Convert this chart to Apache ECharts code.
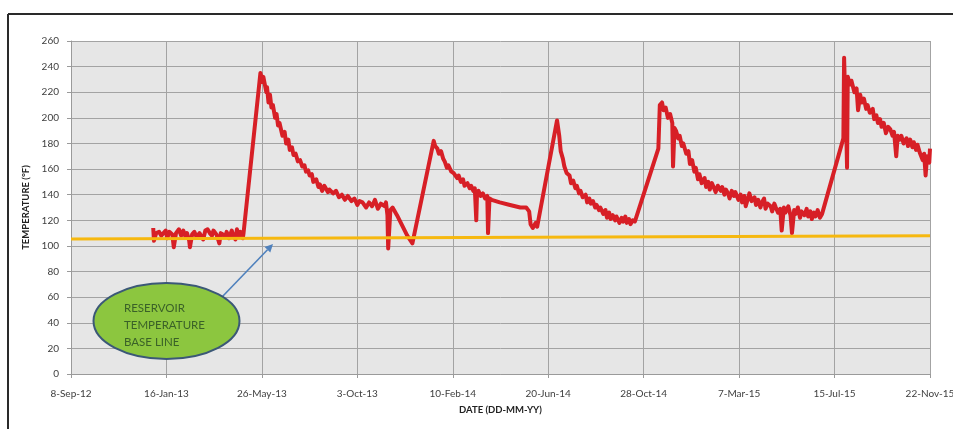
<!DOCTYPE html>
<html>
<head>
<meta charset="utf-8">
<script src="https://cdn.jsdelivr.net/npm/echarts@6/dist/echarts.min.js"></script>
<style>html,body{margin:0;padding:0;background:#fff;}#chart{width:953px;height:429px;}</style>
</head>
<body>
<div id="chart"></div>
<script>
// Day offsets from 8-Sep-12 (x) and temperature in °F (y)
const dateTicks = ['8-Sep-12','16-Jan-13','26-May-13','3-Oct-13','10-Feb-14','20-Jun-14','28-Oct-14','7-Mar-15','15-Jul-15','22-Nov-15'];
const tickStepDays = 130;

const days = [
 112,113,116,120,123,129,131,134,138,140,143,147,150,153,156,158,161,162,165,168,171,175,177,180,183,186,189,192,194,198,201,202,204,207,210,212,215,219,221,224,226,229,231,234,235,
 258,261,262,266,267,269,271,273,275,278,280,282,284,288,291,293,296,298,301,303,306,309,312,315,318,320,323,325,328,330,334,337,339,342,345,347,350,352,357,361,365,369,373,377,382,386,390,393,397,402,406,410,414,418,422,427,429,
 431,432,435,438,444,451,458,465,
 494,496,499,501,504,507,509,512,514,518,521,523,526,528,531,534,536,540,543,545,548,550,552,553,555,558,561,564,567,568,570,573,584,598,612,620,624,626,629,633,635,
 662,665,667,670,672,675,679,681,684,687,689,692,694,697,701,703,706,708,711,714,716,719,721,725,728,730,733,735,738,741,743,747,750,752,755,757,760,762,765,768,
 800,802,805,807,810,813,816,819,820,822,824,827,829,832,834,838,841,843,846,849,851,854,856,859,863,865,868,870,873,876,878,881,885,887,890,892,895,897,900,903,905,909,912,914,917,919,922,924,927,931,933,936,939,941,944,946,949,953,955,958,960,963,966,968,971,973,977,980,982,985,987,990,993,995,999,1002,1004,1007,1009,1012,1014,1017,1020,1023,
 1052,1053,1054,1056,1057,1058,1061,1063,1067,1070,1072,1075,1077,1080,1083,1085,1088,1092,1094,1097,1099,1102,1104,1107,1110,1113,1116,1119,1121,1124,1126,1129,1131,1134,1138,1140,1143,1146,1148,1151,1153,1156,1160,1162,1164,1166,1169,1170
];
const tempF = [
 114,104,110,111,108,112,106,111,109,99,110,113,108,112,107,110,104,99,109,111,107,110,108,105,112,113,110,108,112,109,104,102,110,109,107,111,106,112,108,105,113,107,111,106,110,
 235,228,232,220,224,212,218,208,210,200,203,194,196,186,189,180,183,175,177,171,172,166,167,162,163,158,159,155,156,150,152,146,148,143,147,145,142,144,141,143,138,140,136,139,135,137,132,135,134,130,134,131,136,129,133,131,134,
 124,98,128,130,124,116,108,102,
 182,178,176,172,174,168,166,161,163,158,157,158,153,155,150,152,147,149,145,147,143,145,120,141,143,139,141,137,139,110,137,136,134,132,130,130,127,117,114,118,115,
 198,186,174,168,162,157,155,149,151,145,147,141,143,138,140,134,137,133,135,130,132,128,130,125,128,122,126,121,124,120,123,118,122,119,123,118,121,117,120,119,
 176,210,212,206,208,200,203,196,162,192,190,184,186,178,180,172,174,164,167,158,161,152,156,149,153,146,150,144,149,145,142,147,143,146,140,144,141,137,143,139,142,136,140,134,139,131,137,141,135,138,132,136,130,134,137,129,133,131,127,133,130,126,129,112,130,126,131,124,110,128,125,130,122,127,124,129,123,127,121,126,123,128,122,125,
 184,247,225,190,161,232,226,229,220,223,206,218,212,215,207,210,204,207,199,202,196,199,193,196,188,193,191,186,189,170,186,183,186,180,184,178,183,177,181,175,179,173,167,172,155,170,165,176
];
const baselineDays = [0, 1170];
const baselineTemp = [105.5, 108];

const tempSeries = days.map((d, i) => [d, tempF[i]]);
const baseSeries = baselineDays.map((d, i) => [d, baselineTemp[i]]);

const chart = echarts.init(document.getElementById('chart'), null, {renderer: 'canvas'});
const labelFont = 'Lato, "Open Sans", sans-serif';
chart.setOption({
  animation: false,
  backgroundColor: '#ffffff',
  grid: {left: 71, right: 23, top: 41, bottom: 55, show: true, backgroundColor: '#e6e6e6', borderWidth: 0,
         containLabel: false, outerBoundsMode: 'none'},
  xAxis: {
    type: 'value', min: 0, max: 1170, interval: tickStepDays,
    name: 'DATE (DD-MM-YY)', nameLocation: 'middle', nameGap: 31,
    nameTextStyle: {fontFamily: labelFont, fontSize: 9.5, fontWeight: 'bold', color: '#222'},
    axisLine: {show: true, lineStyle: {color: '#9a9a9a', width: 1}},
    axisTick: {show: true, length: 4, lineStyle: {color: '#9a9a9a'}},
    axisLabel: {margin: 15, fontFamily: labelFont, fontSize: 10, color: '#404040', hideOverlap: false,
      formatter: v => dateTicks[Math.round(v / tickStepDays)] || ''},
    splitLine: {show: true, lineStyle: {color: '#a3a3a3', width: 1}}
  },
  yAxis: {
    type: 'value', min: 0, max: 260, interval: 20,
    name: 'TEMPERATURE (°F)', nameLocation: 'middle', nameGap: 40,
    nameTextStyle: {fontFamily: labelFont, fontSize: 9.5, fontWeight: 'bold', color: '#222'},
    axisLine: {show: true, lineStyle: {color: '#9a9a9a', width: 1}},
    axisTick: {show: true, length: 4, lineStyle: {color: '#9a9a9a'}},
    axisLabel: {margin: 12, fontFamily: labelFont, fontSize: 10, color: '#404040'},
    splitLine: {show: true, lineStyle: {color: '#a3a3a3', width: 1}}
  },
  series: [
    {type: 'line', data: tempSeries, showSymbol: false, symbol: 'none',
     lineStyle: {color: '#d71f26', width: 4, join: 'round'}, z: 3},
    {type: 'line', data: baseSeries, showSymbol: false, symbol: 'none',
     lineStyle: {color: '#f6b80f', width: 3}, z: 4}
  ],
  graphic: [
    {type: 'line', shape: {x1: 8, y1: 14, x2: 953, y2: 14}, style: {stroke: '#2a2a2a', lineWidth: 2}},
    {type: 'line', shape: {x1: 8, y1: 14, x2: 8, y2: 429}, style: {stroke: '#2a2a2a', lineWidth: 2}},
    {type: 'line', shape: {x1: 222, y1: 297, x2: 267.5, y2: 249.8}, style: {stroke: '#4f81bd', lineWidth: 1.6}, z: 10},
    {type: 'polygon', shape: {points: [[273, 244], [270.3, 252.5], [264.6, 247.0]]}, style: {fill: '#4f81bd'}, z: 10},
    {type: 'ellipse', shape: {cx: 166.5, cy: 321, rx: 73, ry: 38}, style: {fill: '#8cc63f', stroke: '#3b5877', lineWidth: 2}, z: 11},
    {type: 'text', x: 124, y: 299.5, z: 12,
     style: {text: 'RESERVOIR\nTEMPERATURE\nBASE LINE', font: '11.5px ' + labelFont, fill: '#3a6128', lineHeight: 17, verticalAlign: 'top', align: 'left'}}
  ]
});
</script>
</body>
</html>
